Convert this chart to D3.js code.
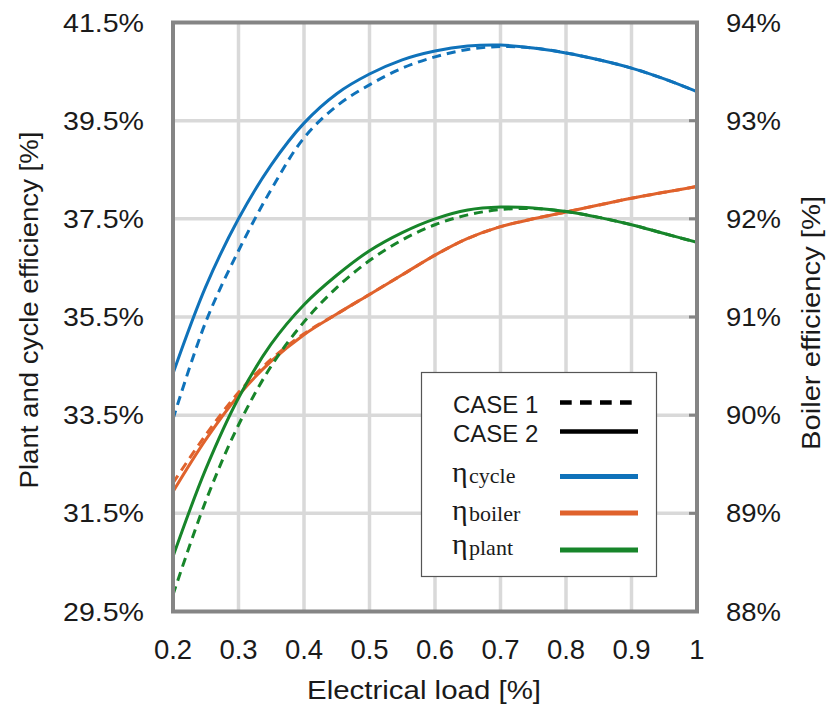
<!DOCTYPE html>
<html>
<head>
<meta charset="utf-8">
<script src="https://cdn.jsdelivr.net/npm/d3@7"></script>
<style>
  html, body { margin: 0; padding: 0; background: #fff; }
  svg { display: block; }
  text { font-family: "Liberation Sans", Arial, sans-serif; fill: #1a1a1a; }
</style>
</head>
<body>
<svg id="chart" width="826" height="709"></svg>
<script>
// Electrical load (fraction of nominal)
const load = [0.2, 0.25, 0.3, 0.35, 0.4, 0.45, 0.5, 0.55, 0.6, 0.65, 0.7, 0.75, 0.8, 0.85, 0.9, 0.95, 1.0];

// Cycle efficiency [%] (left axis)
const cycleCase1 = [33.42, 35.4, 36.85, 38.1, 39.15, 39.8, 40.23, 40.57, 40.8, 40.95, 41.01, 40.98, 40.88, 40.74, 40.57, 40.35, 40.09];
const cycleCase2 = [34.35, 36.12, 37.5, 38.6, 39.45, 40.05, 40.45, 40.74, 40.92, 41.02, 41.04, 40.98, 40.88, 40.74, 40.57, 40.35, 40.09];

// Plant efficiency [%] (left axis)
const plantCase1 = [29.84, 31.75, 33.3, 34.5, 35.4, 36.1, 36.65, 37.07, 37.38, 37.58, 37.69, 37.71, 37.65, 37.53, 37.38, 37.2, 37.02];
const plantCase2 = [30.62, 32.4, 33.85, 34.95, 35.75, 36.35, 36.85, 37.22, 37.5, 37.68, 37.74, 37.72, 37.65, 37.53, 37.38, 37.2, 37.02];

// Boiler efficiency [%] (right axis)
const boilerCase1 = [89.31, 89.8, 90.23, 90.57, 90.83, 91.03, 91.23, 91.43, 91.63, 91.8, 91.92, 92.0, 92.07, 92.14, 92.21, 92.27, 92.33];
const boilerCase2 = [89.22, 89.75, 90.2, 90.55, 90.82, 91.03, 91.23, 91.43, 91.63, 91.8, 91.92, 92.0, 92.07, 92.14, 92.21, 92.27, 92.33];

// Axis ticks
const xTicks = [0.2, 0.3, 0.4, 0.5, 0.6, 0.7, 0.8, 0.9, 1.0];
const leftTicks = [29.5, 31.5, 33.5, 35.5, 37.5, 39.5, 41.5];
const rightTicks = [88, 89, 90, 91, 92, 93, 94];

const colors = { cycle: "#0F72BA", boiler: "#E0622C", plant: "#17852A" };

const svg = d3.select("#chart");
const m = { left: 173, right: 697, top: 22.5, bottom: 611.5 };

const x = d3.scaleLinear().domain([0.2, 1.0]).range([m.left, m.right]);
const yL = d3.scaleLinear().domain([29.5, 41.5]).range([m.bottom, m.top]);
const yR = d3.scaleLinear().domain([88, 94]).range([m.bottom, m.top]);

// Grid
const grid = svg.append("g").attr("stroke", "#D9D9D9").attr("stroke-width", 3.5);
grid.selectAll("line.v").data(xTicks.slice(1, -1)).join("line")
  .attr("x1", d => x(d)).attr("x2", d => x(d))
  .attr("y1", m.top).attr("y2", m.bottom);
grid.selectAll("line.h").data(leftTicks.slice(1, -1)).join("line")
  .attr("x1", m.left).attr("x2", m.right)
  .attr("y1", d => yL(d)).attr("y2", d => yL(d));

// Curves
svg.append("defs").append("clipPath").attr("id", "plot")
  .append("rect").attr("x", m.left).attr("y", m.top)
  .attr("width", m.right - m.left).attr("height", m.bottom - m.top);

const lineL = d3.line().x((d, i) => x(load[i])).y(d => yL(d)).curve(d3.curveCatmullRom.alpha(0.5));
const lineR = d3.line().x((d, i) => x(load[i])).y(d => yR(d)).curve(d3.curveCatmullRom.alpha(0.5));

const series = [
  { v: boilerCase1, gen: lineR, c: colors.boiler, dash: "9,6" },
  { v: boilerCase2, gen: lineR, c: colors.boiler, dash: null },
  { v: plantCase1, gen: lineL, c: colors.plant, dash: "9,6" },
  { v: plantCase2, gen: lineL, c: colors.plant, dash: null },
  { v: cycleCase1, gen: lineL, c: colors.cycle, dash: "9,6" },
  { v: cycleCase2, gen: lineL, c: colors.cycle, dash: null }
];
const curves = svg.append("g").attr("clip-path", "url(#plot)");
series.forEach(s => {
  curves.append("path")
    .attr("d", s.gen(s.v))
    .attr("fill", "none")
    .attr("stroke", s.c)
    .attr("stroke-width", 3)
    .attr("stroke-dasharray", s.dash);
});

// Frame
svg.append("rect")
  .attr("x", m.left).attr("y", m.top)
  .attr("width", m.right - m.left).attr("height", m.bottom - m.top)
  .attr("fill", "none").attr("stroke", "#858585").attr("stroke-width", 4);

// Inner ticks on the right frame
svg.append("g").selectAll("line").data(rightTicks.slice(1, -1)).join("line")
  .attr("x1", m.right - 8).attr("x2", m.right)
  .attr("y1", d => yR(d)).attr("y2", d => yR(d))
  .attr("stroke", "#858585").attr("stroke-width", 3);

// Tick labels (the wide sans face is emulated with textLength)
svg.append("g").selectAll("text").data(leftTicks).join("text")
  .attr("x", 144).attr("y", d => yL(d)).attr("dy", "0.36em")
  .attr("text-anchor", "end").attr("font-size", 25)
  .attr("textLength", 81).attr("lengthAdjust", "spacingAndGlyphs")
  .text(d => d3.format(".1f")(d) + "%");

svg.append("g").selectAll("text").data(rightTicks).join("text")
  .attr("x", 726).attr("y", d => yR(d)).attr("dy", "0.36em")
  .attr("text-anchor", "start").attr("font-size", 25)
  .attr("textLength", 55).attr("lengthAdjust", "spacingAndGlyphs")
  .text(d => d + "%");

svg.append("g").selectAll("text").data(xTicks).join("text")
  .attr("x", d => x(d)).attr("y", 659)
  .attr("text-anchor", "middle").attr("font-size", 27.5)
  .text(d => d === 1 ? "1" : d3.format(".1f")(d));

// Axis titles
svg.append("text").attr("x", 424).attr("y", 699)
  .attr("text-anchor", "middle").attr("font-size", 25)
  .attr("textLength", 234).attr("lengthAdjust", "spacingAndGlyphs")
  .text("Electrical load [%]");
svg.append("text")
  .attr("transform", "translate(38,310) rotate(-90)")
  .attr("text-anchor", "middle").attr("font-size", 25)
  .attr("textLength", 357).attr("lengthAdjust", "spacingAndGlyphs")
  .text("Plant and cycle efficiency [%]");
svg.append("text")
  .attr("transform", "translate(820,323) rotate(-90)")
  .attr("text-anchor", "middle").attr("font-size", 25)
  .attr("textLength", 254).attr("lengthAdjust", "spacingAndGlyphs")
  .text("Boiler efficiency [%]");

// Legend
const lg = svg.append("g");
lg.append("rect").attr("x", 421.5).attr("y", 372.5).attr("width", 235).attr("height", 204)
  .attr("fill", "#fff").attr("stroke", "#555").attr("stroke-width", 1.2);

const legendCases = [
  { label: "CASE 1", dash: "11.7,8.3", y: 402.5, base: 413 },
  { label: "CASE 2", dash: null, y: 431.5, base: 441.5 }
];
legendCases.forEach(d => {
  lg.append("text").attr("x", 453).attr("y", d.base).attr("font-size", 24).text(d.label);
  lg.append("line").attr("x1", 560).attr("x2", 638).attr("y1", d.y).attr("y2", d.y)
    .attr("stroke", "#000").attr("stroke-width", 4.5).attr("stroke-dasharray", d.dash);
});

const legendVars = [
  { sub: "cycle", c: colors.cycle, y: 476.5, base: 482 },
  { sub: "boiler", c: colors.boiler, y: 513, base: 519.5 },
  { sub: "plant", c: colors.plant, y: 550, base: 554 }
];
legendVars.forEach(d => {
  const t = lg.append("text").attr("x", 452).attr("y", d.base)
    .style("font-family", "'Liberation Serif', 'DejaVu Serif', serif");
  t.append("tspan").attr("font-size", 30).text("η");
  t.append("tspan").attr("x", 469).attr("font-size", 22).attr("dy", 1).text(d.sub);
  lg.append("line").attr("x1", 560).attr("x2", 638).attr("y1", d.y).attr("y2", d.y)
    .attr("stroke", d.c).attr("stroke-width", 5);
});
</script>
</body>
</html>
